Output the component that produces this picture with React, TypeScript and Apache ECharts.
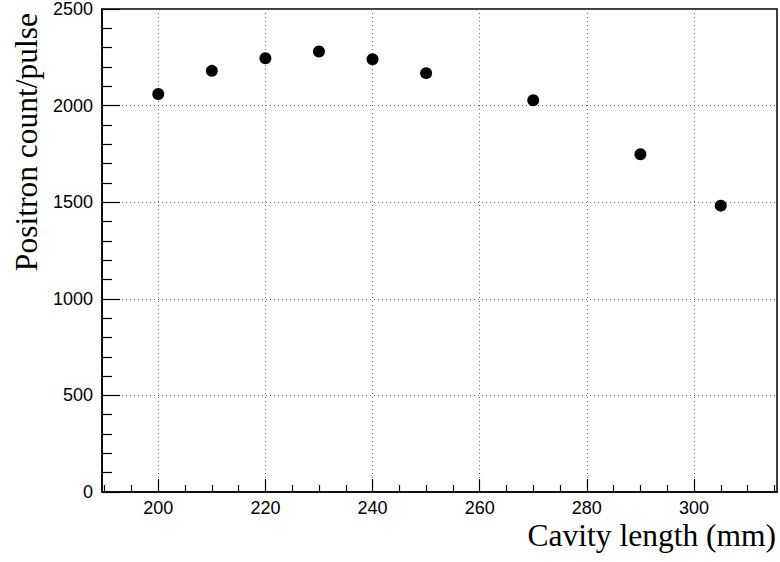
import React, { useEffect, useRef } from "react";
import * as echarts from "echarts";

const cavityLength = [200, 210, 220, 230, 240, 250, 270, 290, 305];
const positronCount = [2060, 2180, 2245, 2280, 2240, 2168, 2028, 1748, 1482];
const xMajorTicks = [200, 220, 240, 260, 280, 300];
const xMinorTicks = [190, 195, 205, 210, 215, 225, 230, 235, 245, 250, 255, 265, 270, 275, 285, 290, 295, 305, 310, 315];
const X_MIN = 189.5;
const X_MAX = 315.5;

export default function App() {
  const ref = useRef<HTMLDivElement>(null);
  useEffect(() => {
    if (!ref.current) return;
    const chart = echarts.init(ref.current, null, { renderer: "svg" });
    const sans = "Liberation Sans, Arial, sans-serif";
    const serif = "Liberation Serif, Times New Roman, serif";
    const gridStyle = { color: "#666", type: [1, 3] as any, width: 1 };
    chart.setOption({
      animation: false,
      backgroundColor: "#fff",
      grid: {
        left: 102,
        right: 3,
        top: 6,
        bottom: 70,
        show: true,
        borderColor: "#000",
        borderWidth: 1.5,
        containLabel: false,
      },
      xAxis: [
        {
          type: "value",
          min: X_MIN,
          max: X_MAX,
          name: "Cavity length (mm)",
          nameLocation: "end",
          nameGap: -1,
          nameTextStyle: {
            fontFamily: serif,
            fontSize: 31.5,
            color: "#000",
            align: "right",
            verticalAlign: "top",
            padding: [27, 0, 0, 0],
          },
          axisLine: { lineStyle: { color: "#000", width: 1.5 } },
          axisTick: { inside: true, length: 13, customValues: xMajorTicks, lineStyle: { color: "#000", width: 1.2 } },
          axisLabel: {
            customValues: xMajorTicks,
            fontFamily: sans,
            fontSize: 18,
            color: "#000",
            margin: 7,
          },
          splitLine: { show: true, lineStyle: gridStyle },
        },
        {
          type: "value",
          min: X_MIN,
          max: X_MAX,
          position: "bottom",
          axisLine: { show: false },
          axisTick: { inside: true, length: 7, customValues: xMinorTicks, lineStyle: { color: "#000", width: 1.2 } },
          axisLabel: { show: false },
          splitLine: { show: false },
        },
      ],
      yAxis: {
        type: "value",
        min: 0,
        max: 2500,
        interval: 500,
        name: "Positron count/pulse",
        nameLocation: "end",
        nameGap: -4,
        nameRotate: 90,
        nameTextStyle: {
          fontFamily: serif,
          fontSize: 31.5,
          color: "#000",
          align: "right",
          verticalAlign: "bottom",
          padding: [0, 0, 60, 0],
        },
        axisLine: { show: true, lineStyle: { color: "#000", width: 1.5 } },
        axisTick: { show: true, inside: true, length: 18, lineStyle: { color: "#000", width: 1.2 } },
        minorTick: { show: true, splitNumber: 5, length: 10, lineStyle: { color: "#000", width: 1.2 } },
        axisLabel: {
          fontFamily: sans,
          fontSize: 18,
          color: "#000",
          margin: 9,
          formatter: (v: number) => String(v),
        },
        splitLine: { show: true, lineStyle: gridStyle },
      },
      series: [
        {
          type: "scatter",
          xAxisIndex: 0,
          data: cavityLength.map((x, i) => [x, positronCount[i]]),
          symbol: "circle",
          symbolSize: 12,
          itemStyle: { color: "#000", opacity: 1 },
        },
      ],
    });
    return () => chart.dispose();
  }, []);
  return <div ref={ref} style={{ width: 780, height: 562, position: "absolute", left: 0, top: 0 }} />;
}
